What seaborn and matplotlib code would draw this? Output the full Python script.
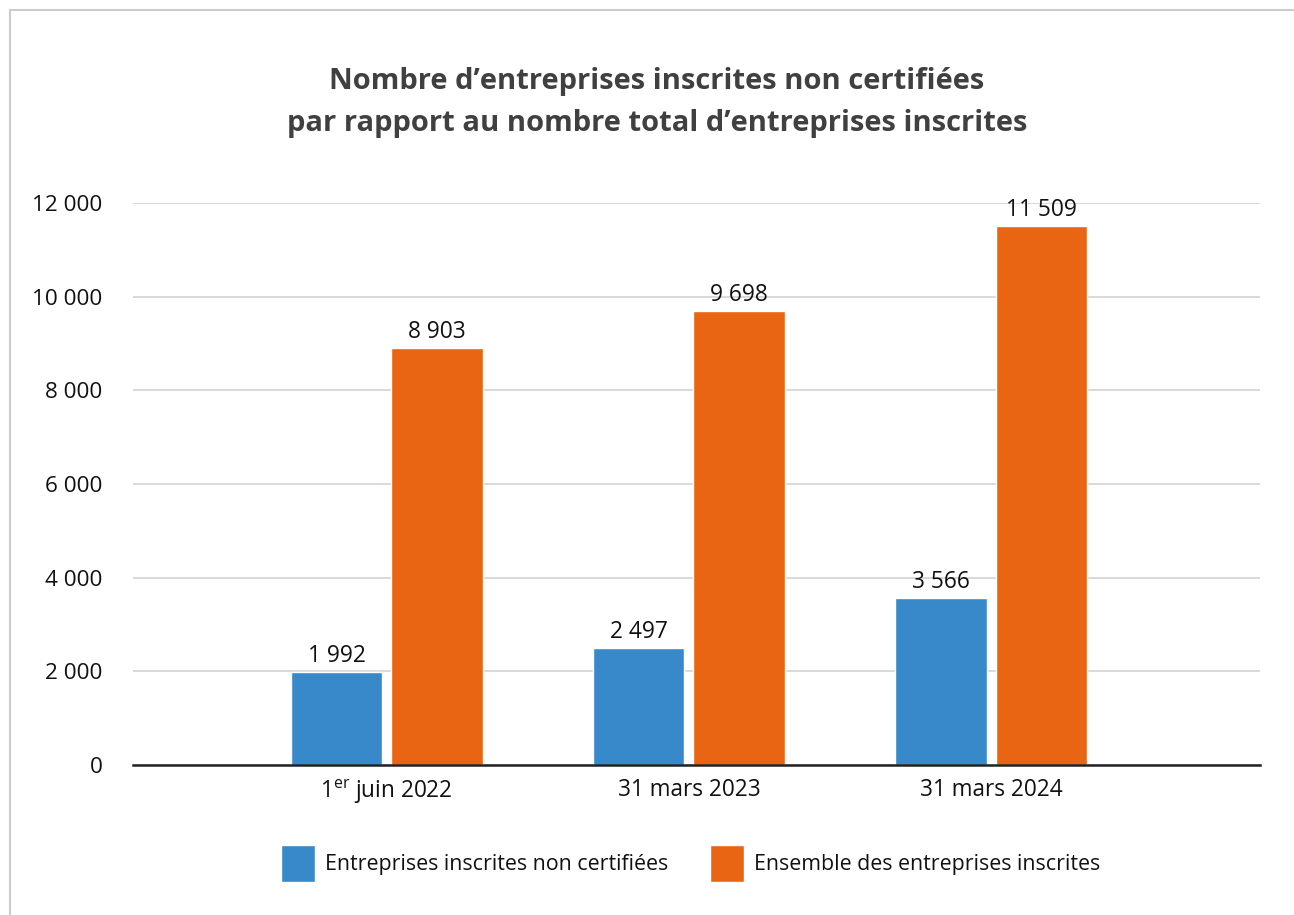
import pandas as pd
import matplotlib.pyplot as plt
import seaborn as sns
from matplotlib.patches import Rectangle

# chart data
dates = ["1$^{\\mathrm{er}}$ juin 2022", "31 mars 2023", "31 mars 2024"]
non_certifiees = [1992, 2497, 3566]
ensemble = [8903, 9698, 11509]
series_names = ["Entreprises inscrites non certifiées", "Ensemble des entreprises inscrites"]
y_ticks = [0, 2000, 4000, 6000, 8000, 10000, 12000]

df = pd.DataFrame({
    "date": dates * 2,
    "serie": [series_names[0]] * 3 + [series_names[1]] * 3,
    "valeur": non_certifiees + ensemble,
})

sns.set_style("white")
plt.rcParams["font.family"] = ["Open Sans", "DejaVu Sans"]
plt.rcParams["mathtext.fontset"] = "custom"
plt.rcParams["mathtext.rm"] = "Open Sans"

fig = plt.figure(figsize=(12.94, 9.15), dpi=100)
ax = fig.add_axes([133 / 1294, 1 - 765 / 915, (1260 - 133) / 1294, (765 - 203) / 915])

palette = {series_names[0]: "#3789C9", series_names[1]: "#E96413"}
sns.barplot(data=df, x="date", y="valeur", hue="serie", palette=palette,
            width=0.664, gap=0.09, saturation=1, ax=ax, legend=True)

def fmt(v):
    return f"{v:,}".replace(",", " ")

for cont in ax.containers:
    ax.bar_label(cont, labels=[fmt(int(v)) for v in cont.datavalues],
                 padding=3, fontsize=16.4, color="#111111", clip_on=False)

ax.set_xlim(-0.84, 2.89)
ax.set_ylim(0, 12000)
ax.set_yticks(y_ticks)
ax.set_yticklabels([fmt(t) for t in y_ticks], fontsize=16.2, color="#111111")
ax.tick_params(axis="x", labelsize=16.3, colors="#111111", pad=9, length=0)
ax.tick_params(axis="y", pad=22, length=0)
ax.set_xlabel("")
ax.set_ylabel("")

ax.yaxis.grid(True, color="#d9d9d9", linewidth=1.4)
ax.set_axisbelow(True)
for s in ["top", "right", "left"]:
    ax.spines[s].set_visible(False)
ax.spines["bottom"].set_color("#222222")
ax.spines["bottom"].set_linewidth(1.8)
ax.spines["bottom"].set_zorder(5)

leg = ax.legend(loc="center", bbox_to_anchor=(0.4947, -0.175), ncol=2, frameon=False,
                fontsize=15.4, handlelength=1.6, handleheight=2.25,
                handletextpad=0.45, columnspacing=1.95)
for t in leg.get_texts():
    t.set_color("#111111")

fig.text(657 / 1294, 1 - 82 / 915, "Nombre d’entreprises inscrites non certifiées",
         ha="center", va="center", fontsize=21, fontweight="bold", color="#404040")
fig.text(657 / 1294, 1 - 123 / 915, "par rapport au nombre total d’entreprises inscrites",
         ha="center", va="center", fontsize=21, fontweight="bold", color="#404040")

# light frame around the chart
fig.patches.append(Rectangle((10 / 1294, -0.1), 2, 1 - 10 / 915 + 0.1,
                             transform=fig.transFigure, fill=False,
                             edgecolor="#cccccc", linewidth=1.5))

fig.savefig("out.png", dpi=100)
